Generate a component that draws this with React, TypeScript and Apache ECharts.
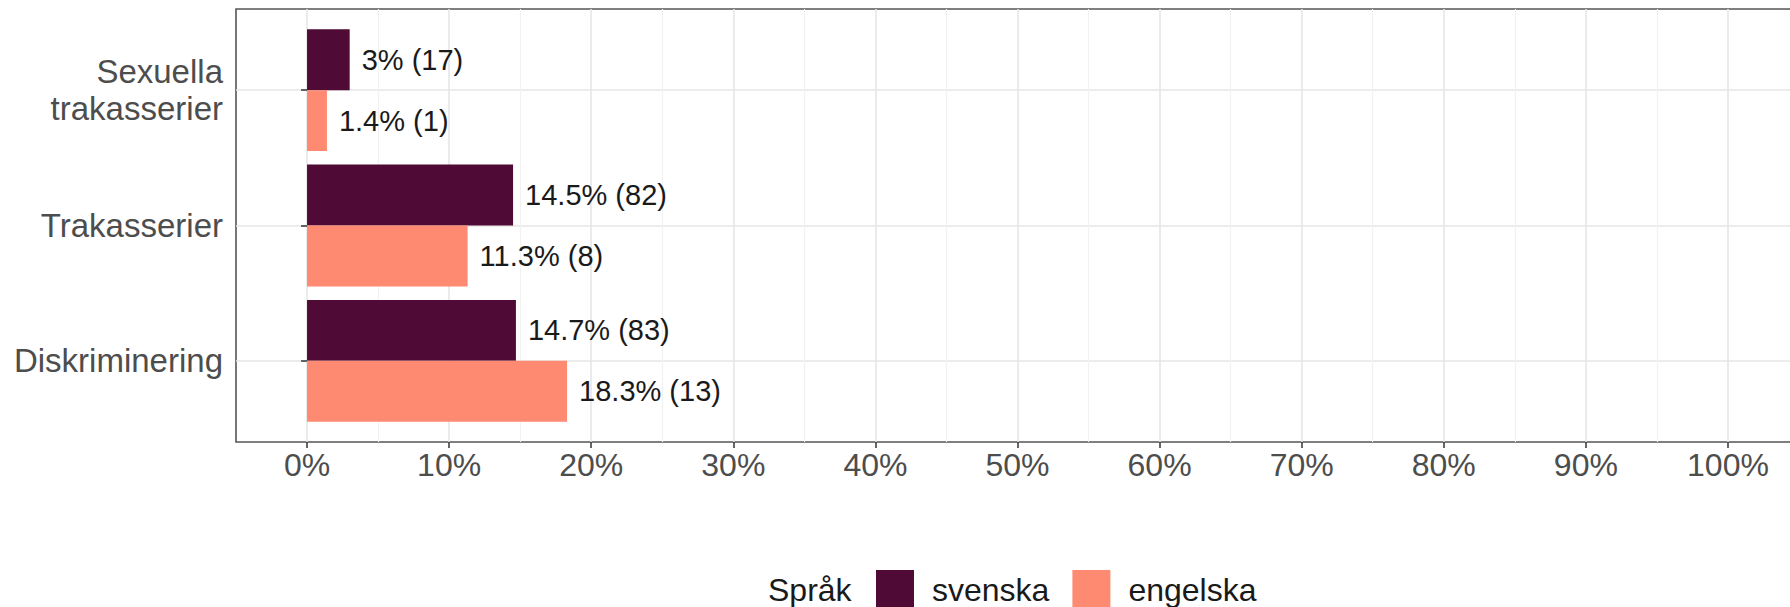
import React, { useEffect, useRef } from "react";
import * as echarts from "echarts";

const categories = ["Sexuella\ntrakasserier", "Trakasserier", "Diskriminering"];
const seriesNames = ["svenska", "engelska"];
const svenskaPct = [3, 14.5, 14.7];
const svenskaN = [17, 82, 83];
const engelskaPct = [1.4, 11.3, 18.3];
const engelskaN = [1, 8, 13];
const xTicks = [0, 10, 20, 30, 40, 50, 60, 70, 80, 90, 100];
const legendTitle = "Språk";

const FONT = "'Liberation Sans', Arial, Helvetica, sans-serif";
const DARK = "#4F0B35";
const LIGHT = "#FD8A71";

export default function App() {
  const ref = useRef<HTMLDivElement>(null);

  useEffect(() => {
    document.body.style.margin = "0";
    if (!ref.current) return;
    const chart = echarts.init(ref.current, undefined, { renderer: "svg" });

    const W = 1790;
    const H = 607;
    const panelLeft = 236;
    const panelRight = 1799;
    const panelTop = 9;
    const panelBottom = 442;
    const unit = (panelBottom - panelTop) / 3.2;

    const label = (counts: number[]) => ({
      show: true,
      position: "right" as const,
      distance: 12,
      fontSize: 29,
      fontFamily: FONT,
      color: "#1a1a1a",
      formatter: (p: any) => `${p.value}% (${counts[p.dataIndex]})`,
    });

    chart.setOption({
      animation: false,
      backgroundColor: "#ffffff",
      textStyle: { fontFamily: FONT },
      grid: [
        {
          left: panelLeft,
          right: W - panelRight,
          top: panelTop,
          bottom: H - panelBottom,
          show: true,
          borderColor: "#555555",
          borderWidth: 1.6,
          backgroundColor: "transparent",
          containLabel: false,
          outerBoundsMode: "none",
        },
        {
          left: panelLeft,
          right: W - panelRight,
          top: panelTop + unit * 0.1,
          bottom: H - (panelBottom - unit * 0.1),
          containLabel: false,
          outerBoundsMode: "none",
        },
      ],
      xAxis: [
        {
          type: "value",
          gridIndex: 0,
          min: -5,
          max: 105,
          splitNumber: 11,
          axisLine: { show: false },
          axisTick: {
            show: true,
            length: 6,
            customValues: xTicks,
            lineStyle: { color: "#333333", width: 1.5 },
          },
          axisLabel: {
            show: true,
            customValues: xTicks,
            fontSize: 32,
            fontFamily: FONT,
            color: "#4D4D4D",
            margin: 7,
            formatter: (v: number) => `${v}%`,
          },
          splitLine: { show: true, lineStyle: { color: "#E6E6E6", width: 1.6 } },
          minorTick: { show: false, splitNumber: 2 },
          minorSplitLine: { show: true, lineStyle: { color: "#F2F2F2", width: 1.2 } },
        },
        {
          type: "value",
          gridIndex: 1,
          min: -5,
          max: 105,
          show: false,
          splitLine: { show: false },
        },
      ],
      yAxis: [
        {
          type: "value",
          gridIndex: 0,
          show: false,
          splitLine: { show: false },
        },
        {
          type: "category",
          gridIndex: 1,
          inverse: true,
          data: categories,
          axisLine: { show: false },
          axisTick: {
            show: true,
            alignWithLabel: true,
            length: 6,
            lineStyle: { color: "#333333", width: 1.5 },
          },
          axisLabel: {
            fontSize: 33,
            fontFamily: FONT,
            color: "#4D4D4D",
            margin: 13,
            lineHeight: 37,
            align: "right",
          },
          splitLine: {
            show: true,
            alignWithLabel: true,
            lineStyle: { color: "#E6E6E6", width: 1.6 },
          },
        },
      ],
      legend: {
        show: true,
        left: 876,
        top: 570,
        orient: "horizontal",
        itemWidth: 38,
        itemHeight: 40,
        itemGap: 23,
        padding: 0,
        icon: "rect",
        data: seriesNames.map((n) => ({ name: n, icon: "rect" })),
        textStyle: {
          fontSize: 32,
          fontFamily: FONT,
          color: "#1a1a1a",
          padding: [0, 0, 0, 13],
        },
        selectedMode: false,
      },
      graphic: [
        {
          type: "text",
          x: 768,
          y: 590,
          style: {
            text: legendTitle,
            fontSize: 32,
            fontFamily: FONT,
            fill: "#1a1a1a",
            verticalAlign: "middle",
            align: "left",
          },
        },
      ],
      series: [
        {
          name: seriesNames[0],
          type: "bar",
          xAxisIndex: 1,
          yAxisIndex: 1,
          data: svenskaPct,
          barGap: "0%",
          barCategoryGap: "10%",
          itemStyle: { color: DARK },
          label: label(svenskaN),
          emphasis: { disabled: true },
        },
        {
          name: seriesNames[1],
          type: "bar",
          xAxisIndex: 1,
          yAxisIndex: 1,
          data: engelskaPct,
          barGap: "0%",
          barCategoryGap: "10%",
          itemStyle: { color: LIGHT },
          label: label(engelskaN),
          emphasis: { disabled: true },
        },
      ],
    });

    return () => {
      chart.dispose();
    };
  }, []);

  return (
    <div
      ref={ref}
      style={{ position: "absolute", left: 0, top: 0, width: 1790, height: 607 }}
    />
  );
}
